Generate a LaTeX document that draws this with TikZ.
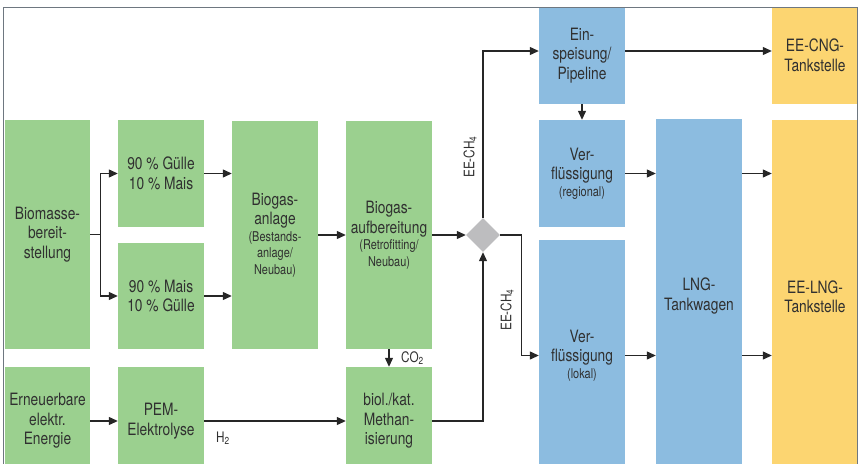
\documentclass[tikz,border=0pt]{standalone}
\usepackage{fontspec}
\setmainfont{TeX Gyre Heros}[FakeStretch=0.81]
\usetikzlibrary{positioning}
\usetikzlibrary{arrows.meta}
\usetikzlibrary{shapes.geometric}
\definecolor{boxgreen}{HTML}{9BD08F}
\definecolor{boxblue}{HTML}{8CBCE0}
\definecolor{boxyellow}{HTML}{FCD571}
\definecolor{diagray}{HTML}{BDBDBF}
\definecolor{textgray}{HTML}{303030}
\definecolor{framegray}{HTML}{6E7780}
\newcommand{\klein}[1]{{\fontsize{13.5}{16}\selectfont #1}}

\begin{document}
\begin{tikzpicture}[x=1pt,y=-1pt]
    % Stili
    \tikzset{
        box/.style={
            rectangle,
            inner sep=0pt,
            minimum width=86pt,
            text=textgray,
            align=center,
            font=\fontsize{17}{19.5}\selectfont
        },
        green box/.style={box, fill=boxgreen},
        blue box/.style={box, fill=boxblue},
        yellow box/.style={box, fill=boxyellow},
        flow/.style={
            draw=black!85,
            line width=1.2pt,
            -{Triangle[length=9pt,width=8pt]}
        },
        label text/.style={text=textgray, font=\fontsize{14.5}{16}\selectfont, inner sep=1pt}
    }

    \clip (0,0) rectangle (859,463);

    % Biomasse und Biogas
    \node[green box, minimum width=85pt, minimum height=229pt] (bio) at (47.5,234.5) {Biomasse-\\bereit-\\stellung};
    \node[green box, minimum height=107pt] (guelle) at (161,173.5) {90 \% Gülle\\10 \% Mais};
    \node[green box, minimum height=106pt] (mais) at (161,296) {90 \% Mais\\10 \% Gülle};
    \node[green box, minimum height=228pt] (anlage) at (275,235) {Biogas-\\anlage\\[-3pt]\klein{(Bestands-}\\[-3pt]\klein{anlage/}\\[-3pt]\klein{Neubau)}};
    \node[green box, minimum height=228pt] (aufb) at (389,235) {Biogas-\\aufbereitung\\[-3pt]\klein{(Retrofitting/}\\[-3pt]\klein{Neubau)}};

    % Strom und Methanisierung
    \node[green box, minimum width=85pt, minimum height=108pt] (erneu) at (47.5,421) {Erneuerbare\\elektr.\\Energie};
    \node[green box, minimum height=108pt] (pem) at (161,421) {PEM-\\Elektrolyse};
    \node[green box, minimum height=108pt] (meth) at (389,421) {biol./kat.\\Methan-\\isierung};

    % Verzweigung
    \node[diamond, fill=diagray, inner sep=0pt, minimum size=34pt] (dia) at (483,235) {};

    % Verteilung
    \node[blue box, minimum height=97pt] (einsp) at (582,55.5) {Ein-\\speisung/\\Pipeline};
    \node[blue box, minimum height=107pt] (vreg) at (582,173.5) {Ver-\\flüssigung\\[-3pt]\klein{(regional)}};
    \node[blue box, minimum height=231pt] (vlok) at (582,355.5) {Ver-\\flüssigung\\[-3pt]\klein{(lokal)}};
    \node[blue box, minimum height=354pt] (lng) at (699,296) {LNG-\\Tankwagen};

    % Tankstellen
    \node[yellow box, minimum height=97pt] (cng) at (815,55.5) {EE-CNG-\\Tankstelle};
    \node[yellow box, minimum height=354pt] (eelng) at (815,297) {EE-LNG-\\Tankstelle};

    % Verbindungen
    \draw[flow] (bio.east) -- ++(10,0) |- (guelle.west);
    \draw[flow] (bio.east) -- ++(10,0) |- (mais.west);
    \draw[flow] (guelle.east) -- (guelle.east -| anlage.west);
    \draw[flow] (mais.east) -- (mais.east -| anlage.west);
    \draw[flow] (anlage.east) -- (aufb.west);
    \draw[flow] (aufb.east) -- (dia.west);
    \draw[flow] (aufb.south) -- (meth.north);
    \draw[flow] (erneu.east) -- (pem.west);
    \draw[flow] (pem.east) -- (meth.west);
    \draw[flow] (meth.east) -| (dia.south);
    \draw[flow] (dia.north) |- ([yshift=4.5pt]einsp.west);
    \draw[flow] (dia.east) -- ++(21,0) |- (vlok.west);
    \draw[flow] ([yshift=4.5pt]einsp.east) -- ([yshift=4.5pt]cng.west);
    \draw[flow] (einsp.south) -- (vreg.north);
    \draw[flow] (vreg.east) -- (vreg.east -| lng.west);
    \draw[flow] (vlok.east) -- (vlok.east -| lng.west);
    \draw[flow] (vreg.east -| lng.east) -- (vreg.east -| eelng.west);
    \draw[flow] (vlok.east -| lng.east) -- (vlok.east -| eelng.west);

    % Beschriftungen
    \node[label text, rotate=90] (ch4a) at (470,157) {EE-CH\textsubscript{4}};
    \node[label text, rotate=90] (ch4b) at (507,310) {EE-CH\textsubscript{4}};
    \node[label text, anchor=west] (co2) at (400,358) {CO\textsubscript{2}};
    \node[label text] (h2) at (223,438) {H\textsubscript{2}};

    % Rahmen
    \draw[framegray, line width=0.8pt] (3.5,7) rectangle (857.5,480);
\end{tikzpicture}
\end{document}
